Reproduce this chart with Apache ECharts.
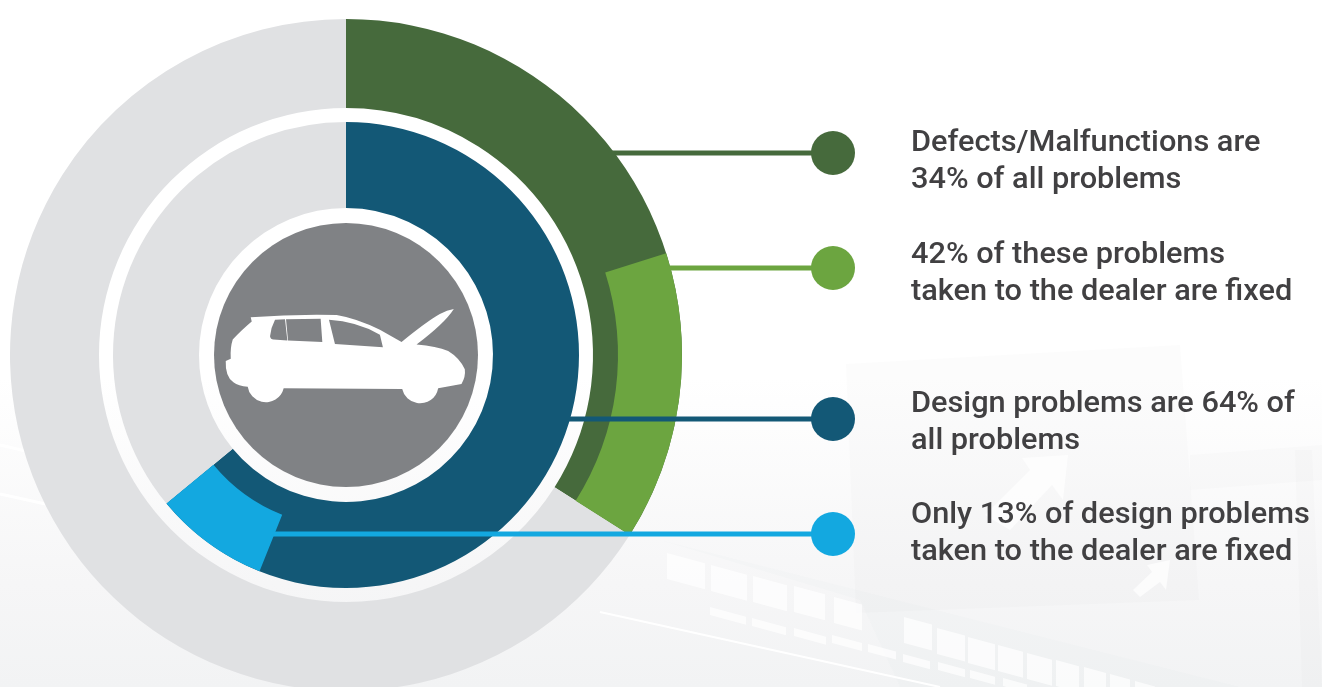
<!DOCTYPE html>
<html><head><meta charset="utf-8">
<style>html,body{margin:0;padding:0;background:#fff}#c{width:1322px;height:687px}</style>
<script src="https://cdn.jsdelivr.net/npm/echarts@6/dist/echarts.min.js"></script>
</head><body><div id="c"></div>
<script>
// ---- data ----
// slice sizes in % of the full circle, clockwise from 12 o'clock
const outerRing = [34, 66];                // defects/malfunctions, other problems
const outerOverlay = [20.1, 13.9, 66];     // not fixed (see-through), fixed at the dealer, rest (see-through)
const innerRing = [64, 36];                // design problems, other problems
const innerOverlay = [56.05, 7.95, 36];    // not fixed (see-through), fixed at the dealer, rest (see-through)
const labelLines = [
  ['Defects/Malfunctions are', '34% of all problems'],
  ['42% of these problems', 'taken to the dealer are fixed'],
  ['Design problems are 64% of', 'all problems'],
  ['Only 13% of design problems', 'taken to the dealer are fixed']
];
// ---- styles ----
const C = {dkGreen:'#466a3c', ltGreen:'#6ca540', blue:'#135876', ltBlue:'#13a8e0', gray:'#e0e1e3', hub:'#808285', text:'#414042'};
const leaderColors = [C.dkGreen, C.ltGreen, C.blue, C.ltBlue];
const leaderY = [153, 268, 419, 534];
const leaderX0 = [612, 670, 568, 272];
const textY = [143, 255, 404, 515];
const center = [346, 355];
const none = {color:'rgba(0,0,0,0)'};
const paint = (values, colors) => values.map((value,i)=>({value, itemStyle: colors[i] ? {color:colors[i]} : none}));

function ring(radius, data, z){
  return {type:'pie', center, radius, startAngle:90, clockwise:true, silent:true, z,
    label:{show:false}, labelLine:{show:false}, animation:false, emphasis:{disabled:true},
    data, itemStyle:{borderWidth:0}};
}
const bg = [];
bg.push({type:'rect', z:-10, shape:{x:0,y:0,width:1322,height:687},
  style:{fill:new echarts.graphic.LinearGradient(0,0,0,1,[{offset:0,color:'#ffffff'},{offset:0.55,color:'#ffffff'},{offset:0.85,color:'#f6f6f7'},{offset:1,color:'#f2f3f4'}])}});
const poly = (points, fill, z) => ({type:'polygon', z:z||-9, shape:{points}, style:{fill}});
const shade = 'rgba(120,130,130,0.025)';
const light = 'rgba(255,255,255,0.7)';
// faint road signs behind the text
bg.push(poly([[846,364],[1180,345],[1199,600],[856,613]], shade));
bg.push(poly([[1190,455],[1322,445],[1322,480],[1190,490]], shade));
bg.push(poly([[1295,450],[1312,450],[1322,687],[1302,687]], shade));
// arrows
bg.push(poly([[1068,455],[1063,500],[1052,485],[1010,530],[985,515],[1030,470],[1022,458]], light,-8));
bg.push(poly([[1170,560],[1166,590],[1160,582],[1140,597],[1133,590],[1152,572],[1147,565]], light,-8));
// gantry truss
bg.push(poly([[660,540],[1240,687],[900,687],[860,600]], 'rgba(120,130,130,0.02)',-9));
const row1 = [[667,553,38],[711,565,36],[753,576,34],[794,586,31],[834,597,28],[904,617,28],[937,628,28],[968,637,27],[998,645,25],[1027,653,25],[1056,660,23],[1084,667,22],[1110,674,20],[1135,681,20]];
const row2 = [[710,607,36],[752,618,34],[794,628,32],[832,635,30],[868,644,28],[903,654,27],[938,662,27],[970,670,25],[1003,678,24]];
row1.forEach(r=>bg.push(poly([[r[0],r[1]],[r[0]+r[2],r[1]+r[2]*.27],[r[0]+r[2],r[1]+r[2]*.27+26],[r[0],r[1]+26]],light,-8)));
row2.forEach(r=>bg.push(poly([[r[0],r[1]],[r[0]+r[2],r[1]+r[2]*.27],[r[0]+r[2],r[1]+r[2]*.27+8],[r[0],r[1]+8]],light,-8)));
// light streaks
bg.push({type:'line',z:-8,shape:{x1:600,y1:612,x2:940,y2:687},style:{stroke:'#ffffff',lineWidth:2}});
bg.push({type:'line',z:-8,shape:{x1:0,y1:494,x2:50,y2:505},style:{stroke:'#ffffff',lineWidth:3}});
bg.push({type:'line',z:-8,shape:{x1:0,y1:445,x2:30,y2:452},style:{stroke:'#ffffff',lineWidth:3}});

const fg = [];
leaderY.forEach((y,i)=>{
  fg.push({type:'line',z:50,shape:{x1:leaderX0[i],y1:y,x2:832,y2:y},style:{stroke:leaderColors[i],lineWidth:5}});
  fg.push({type:'circle',z:51,shape:{cx:833,cy:y,r:22},style:{fill:leaderColors[i]}});
  labelLines[i].forEach((t,j)=>fg.push({type:'text',z:52,x:911,y:textY[i]+j*37,scaleX:1.024,
    style:{text:t,fill:C.text,font:'500 30px Roboto',verticalAlign:'middle',align:'left'}}));
});
// car silhouette: outer body with window cut-outs
const carPath = 'M122 82 Q250 72 380 75 Q440 85 510 120 L575 157 Q650 95 690 72 Q712 60 732 57 Q705 100 620 165 Q680 170 715 185 Q748 205 765 240 Q768 262 755 285 L685 298 A55 55 0 0 1 577 300 L221 298 A55 55 0 0 1 113 293 Q85 292 70 280 Q45 262 47 215 L62 208 Q60 175 68 150 Q90 125 125 95 Z '
 + 'M195 90 Q182 115 180 140 Q182 150 190 150 L232 153 L225 88 Z M228 88 L234 153 L337 157 L332 87 Z M357 90 L375 163 L519 173 L510 135 Q440 95 357 90 Z';

const chart = echarts.init(document.getElementById('c'));
chart.setOption({
  animation:false,
  series:[
    ring([247,336],paint(outerRing,[C.dkGreen,C.gray]),2),
    ring([272,336],paint(outerOverlay,[null,C.ltGreen,null]),3),
    ring([147,233],paint(innerRing,[C.blue,C.gray]),2),
    ring([172,233],paint(innerOverlay,[null,C.ltBlue,null]),3),
    ring([0,132],paint([1],[C.hub]),4),
    {type:'custom', coordinateSystem:'none', silent:true, z:60, data:[1],
     renderItem:()=>({type:'path',shape:{pathData:carPath,layout:'cover',x:225.7,y:309,width:239.3,height:94.3},style:{fill:'#ffffff'}})}
  ],
  graphic:{elements:bg.concat(fg)}
});
</script></body></html>
